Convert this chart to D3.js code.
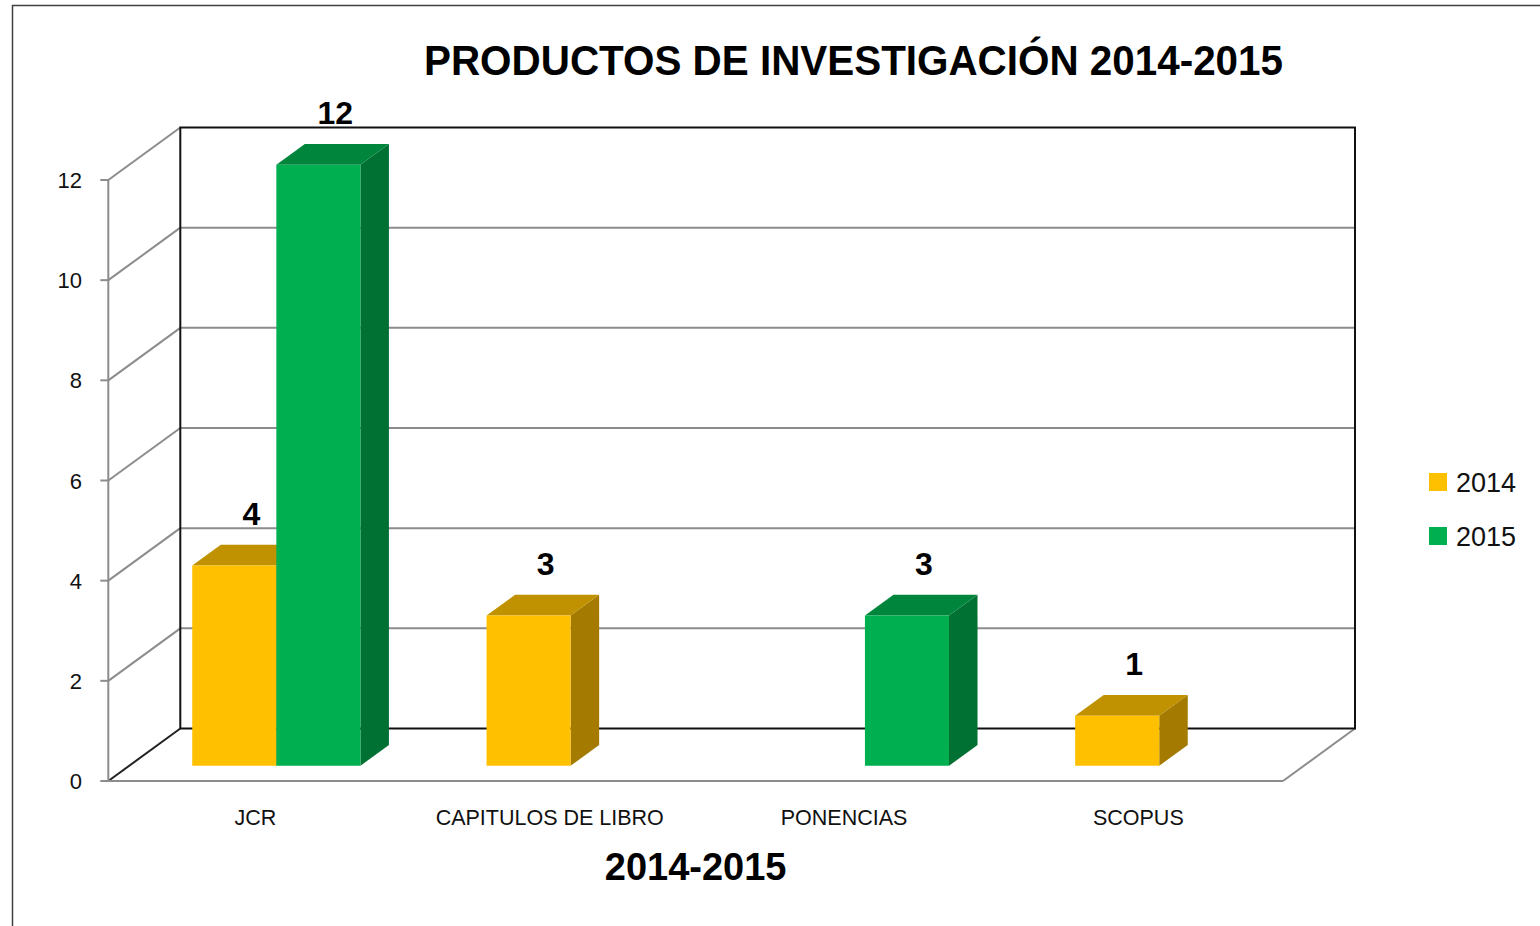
<!DOCTYPE html>
<html>
<head>
<meta charset="utf-8">
<script src="https://cdn.jsdelivr.net/npm/d3@7"></script>
<style>
  body { margin: 0; background: #fff; }
  svg { display: block; font-family: "Liberation Sans", Arial, sans-serif; }
</style>
</head>
<body>
<svg id="chart" width="1540" height="926"></svg>
<script>
var categories = ["JCR", "CAPITULOS DE LIBRO", "PONENCIAS", "SCOPUS"];
var seriesNames = ["2014", "2015"];
var values2014 = [4, 3, null, 1];
var values2015 = [12, null, 3, null];
var yTicks = [0, 2, 4, 6, 8, 10, 12];

var colors = {
  "2014": {front: "#FFC000", top: "#C09100", side: "#A47B00"},
  "2015": {front: "#00B050", top: "#00863C", side: "#007033"}
};

// 3d frame: front plane and depth offset
var DX = 72, DY = 52.5;
var z0 = 0.29, z1 = 0.686;   // bar depth inside the box

var svg = d3.select("#chart");

var x = d3.scaleBand().domain(categories).range([108.3, 1285.5]);
var y = d3.scaleLinear().domain([0, 12]).range([781, 180]);

var barW = x.bandwidth() / 3.5;  // gap width 150%
var x1 = d3.scaleBand().domain(seriesNames)
    .range([barW * 0.75, x.bandwidth() - barW * 0.75]);

function P(px, v, z) {
  return [px + z * DX, y(v) - z * DY];
}
function pts(arr) {
  return arr.map(function(p) { return p.join(","); }).join(" ");
}

// outer border
svg.append("rect")
    .attr("x", 12.5).attr("y", 5.5)
    .attr("width", 1560).attr("height", 940)
    .attr("fill", "none").attr("stroke", "#404040").attr("stroke-width", 1.5);

var grid = svg.append("g").attr("fill", "none");
var xl = x.range()[0], xr = 1283;

// side wall + back wall gridlines
yTicks.forEach(function(t) {
  var f = P(xl, t, 0), b = P(xl, t, 1), br = P(xr, t, 1);
  grid.append("line")
      .attr("x1", f[0]).attr("y1", f[1]).attr("x2", b[0]).attr("y2", b[1])
      .attr("stroke", t === 0 ? "#222" : "#8c8c8c").attr("stroke-width", 2);
  if (t > 0 && t < 12) {
    grid.append("line")
        .attr("x1", b[0]).attr("y1", b[1]).attr("x2", br[0]).attr("y2", br[1])
        .attr("stroke", "#8c8c8c").attr("stroke-width", 2);
  }
  grid.append("line")
      .attr("x1", xl - 8).attr("y1", f[1]).attr("x2", xl).attr("y2", f[1])
      .attr("stroke", "#8c8c8c").attr("stroke-width", 2);
});

// front left vertical of side wall
grid.append("line")
    .attr("x1", xl).attr("y1", y(12)).attr("x2", xl).attr("y2", y(0))
    .attr("stroke", "#8c8c8c").attr("stroke-width", 2);

// floor front edge and right edge
var f0 = P(xr, 0, 0), f1 = P(xr, 0, 1);
grid.append("line")
    .attr("x1", xl).attr("y1", y(0)).attr("x2", xr).attr("y2", y(0))
    .attr("stroke", "#8c8c8c").attr("stroke-width", 2);
grid.append("line")
    .attr("x1", f0[0]).attr("y1", f0[1]).attr("x2", f1[0]).attr("y2", f1[1])
    .attr("stroke", "#8c8c8c").attr("stroke-width", 2);

// back wall border
var bl0 = P(xl, 0, 1), bl1 = P(xl, 12, 1), br1 = P(xr, 12, 1), br0 = P(xr, 0, 1);
grid.append("polygon")
    .attr("points", pts([bl0, bl1, br1, br0]))
    .attr("stroke", "#111").attr("stroke-width", 2);

// y tick labels
svg.append("g").selectAll("text").data(yTicks).enter().append("text")
    .attr("x", 82).attr("y", function(d) { return y(d) + 8; })
    .attr("text-anchor", "end")
    .attr("font-size", 22).attr("fill", "#111")
    .text(function(d) { return d; });

// bars
var bars = [];
categories.forEach(function(c, i) {
  [values2014[i], values2015[i]].forEach(function(v, j) {
    if (v != null) bars.push({cat: c, s: seriesNames[j], v: v});
  });
});

var gb = svg.append("g");
bars.forEach(function(d) {
  var bx = x(d.cat) + x1(d.s), c = colors[d.s];
  gb.append("polygon")
      .attr("points", pts([P(bx + barW, 0, z0), P(bx + barW, d.v, z0), P(bx + barW, d.v, z1), P(bx + barW, 0, z1)]))
      .attr("fill", c.side);
  gb.append("polygon")
      .attr("points", pts([P(bx, d.v, z0), P(bx + barW, d.v, z0), P(bx + barW, d.v, z1), P(bx, d.v, z1)]))
      .attr("fill", c.top);
  gb.append("polygon")
      .attr("points", pts([P(bx, d.v, z0), P(bx + barW, d.v, z0), P(bx + barW, 0, z0), P(bx, 0, z0)]))
      .attr("fill", c.front);
});

// value labels
svg.append("g").selectAll("text").data(bars).enter().append("text")
    .attr("x", function(d) { return P(x(d.cat) + x1(d.s) + barW / 2, 0, z0)[0] + 17; })
    .attr("y", function(d) { return P(0, d.v, z1)[1] - 20; })
    .attr("text-anchor", "middle")
    .attr("font-size", 32).attr("font-weight", "bold").attr("fill", "#000")
    .text(function(d) { return d.v; });

// category labels
svg.append("g").selectAll("text").data(categories).enter().append("text")
    .attr("x", function(d) { return x(d) + x.bandwidth() / 2; })
    .attr("y", 825)
    .attr("text-anchor", "middle")
    .attr("font-size", 21.5).attr("fill", "#111")
    .text(function(d) { return d; });

// axis title
svg.append("text")
    .attr("x", (xl + xr) / 2).attr("y", 880)
    .attr("text-anchor", "middle")
    .attr("font-size", 38).attr("font-weight", "bold")
    .text("2014-2015");

// chart title
svg.append("text")
    .attr("x", 853.5).attr("y", 75)
    .attr("text-anchor", "middle")
    .attr("font-size", 43).attr("font-weight", "bold")
    .attr("textLength", 859).attr("lengthAdjust", "spacingAndGlyphs")
    .text("PRODUCTOS DE INVESTIGACIÓN 2014-2015");

// legend
var lg = svg.append("g").selectAll("g").data(seriesNames).enter().append("g")
    .attr("transform", function(d, i) { return "translate(1429," + (473 + i * 54) + ")"; });
lg.append("rect").attr("width", 18).attr("height", 18)
    .attr("fill", function(d) { return colors[d].front; });
lg.append("text").attr("x", 27).attr("y", 18.5)
    .attr("font-size", 27).attr("fill", "#111")
    .text(function(d) { return d; });
</script>
</body>
</html>
